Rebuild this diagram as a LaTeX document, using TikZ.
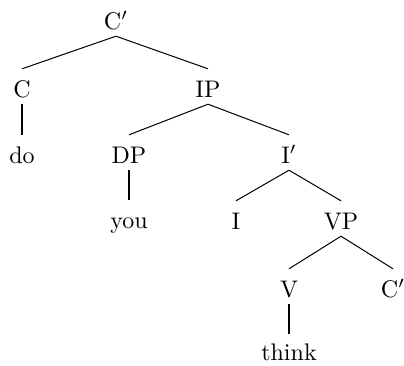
\documentclass[tikz,border=0pt]{standalone}
\begin{document}
\begin{tikzpicture}[x=1pt,y=-1pt,
  lbl/.style={anchor=base,inner xsep=0pt,inner ysep=3pt,text height=25pt,text depth=4pt},
  leaf/.style={anchor=base,inner xsep=0pt,inner ysep=0pt,text height=26pt,text depth=0pt},
  branch/.style={line width=1pt},
  stem/.style={line width=1.8pt}]
\useasboundingbox (0,0) rectangle (404,365);
\newcommand{\tw}[1]{\scalebox{2.4}{#1}}
\node[lbl] (cbar)  at (116,29)  {\tw{C$'$}};
\node[lbl] (c)     at (22,97)   {\tw{C}};
\node[lbl] (ip)    at (208,97)  {\tw{IP}};
\node[lbl] (do)    at (22,163)  {\tw{do}};
\node[lbl] (dp)    at (129,163) {\tw{DP}};
\node[lbl] (ibar)  at (289,163) {\tw{I$'$}};
\node[lbl] (you)   at (129,228) {\tw{you}};
\node[lbl] (i)     at (236,229) {\tw{I}};
\node[lbl] (vp)    at (341,229) {\tw{VP}};
\node[lbl] (v)     at (289,297) {\tw{V}};
\node[lbl] (cbar2) at (393,297) {\tw{C$'$}};
\node[leaf] (think) at (289,360) {\tw{think}};
\draw[branch] (cbar.south) -- (c.north);
\draw[branch] (cbar.south) -- (ip.north);
\draw[stem] (c.south) -- (do.north);
\draw[branch] (ip.south) -- (dp.north);
\draw[branch] (ip.south) -- (ibar.north);
\draw[stem] (dp.south) -- (you.north);
\draw[branch] (ibar.south) -- (i.north);
\draw[branch] (ibar.south) -- (vp.north);
\draw[branch] (vp.south) -- (v.north);
\draw[branch] (vp.south) -- (cbar2.north);
\draw[stem] (v.south) -- (think.north);
\end{tikzpicture}
\end{document}
